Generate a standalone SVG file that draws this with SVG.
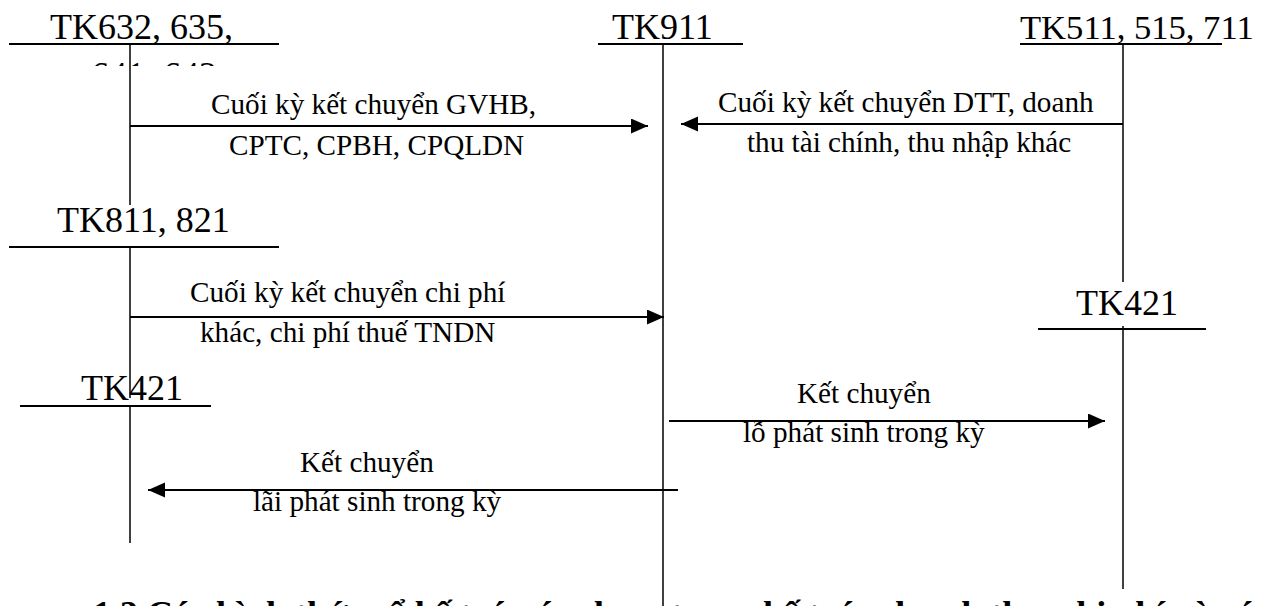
<svg xmlns="http://www.w3.org/2000/svg" width="1270" height="606" viewBox="0 0 1270 606">
<style>
.t{font-family:"Liberation Serif","Times New Roman",serif;font-size:36px;fill:#000}
.l{font-family:"Liberation Serif","Times New Roman",serif;font-size:29.2px;fill:#000}
.h{font-family:"Liberation Serif","Times New Roman",serif;font-size:36px;font-weight:bold;fill:#000}
.bar{stroke:#000;stroke-width:2;fill:none}
.v{stroke:#000;stroke-width:1.5;fill:none}
.a{stroke:#000;stroke-width:2;fill:none;marker-end:url(#ah)}
</style>
<defs>
<marker id="ah" markerUnits="userSpaceOnUse" markerWidth="18" markerHeight="16" refX="17" refY="7.5" orient="auto">
<path d="M0,0 L17,7.5 L0,15 Z" fill="#000"/>
</marker>
<clipPath id="clip641"><rect x="0" y="0" width="300" height="66"/></clipPath>
</defs>
<rect width="1270" height="606" fill="#fff"/>

<g id="tk632">
<text class="t" x="50" y="39">TK632, 635,</text>
<text class="t" x="91" y="87" clip-path="url(#clip641)">641, 642</text>
<line class="bar" x1="9" y1="44" x2="279" y2="44"/>
<line class="v" x1="130" y1="44" x2="130" y2="205"/>
</g>

<g id="tk911">
<text class="t" x="612" y="39">TK911</text>
<line class="bar" x1="598" y1="44" x2="743" y2="44"/>
<line class="v" x1="663" y1="44" x2="663" y2="606"/>
</g>

<g id="tk511">
<text class="t" x="1020" y="39" style="font-size:34.6px">TK511, 515, 711</text>
<line class="bar" x1="1020" y1="44" x2="1222" y2="44"/>
<line class="v" x1="1123" y1="44" x2="1123" y2="282"/>
</g>

<g id="tk811">
<text class="t" x="57" y="232">TK811, 821</text>
<line class="bar" x1="9" y1="247" x2="279" y2="247"/>
<line class="v" x1="130" y1="247" x2="130" y2="398"/>
</g>

<g id="tk421-left">
<text class="t" x="81" y="400">TK421</text>
<line class="bar" x1="20" y1="406" x2="211" y2="406"/>
<line class="v" x1="130" y1="406" x2="130" y2="543"/>
</g>

<g id="tk421-right">
<text class="t" x="1076" y="315">TK421</text>
<line class="bar" x1="1038" y1="329" x2="1206" y2="329"/>
<line class="v" x1="1123" y1="326" x2="1123" y2="589"/>
</g>

<g id="connectors">
<line class="a" x1="130" y1="126" x2="648" y2="126"/>
<line class="a" x1="1123" y1="124" x2="681" y2="124"/>
<line class="a" x1="130" y1="317" x2="664" y2="317"/>
<line class="a" x1="669" y1="421" x2="1105" y2="421"/>
<line class="a" x1="678" y1="490" x2="148" y2="490"/>
</g>

<g id="labels">
<text class="l" x="211" y="114">Cuối kỳ kết chuyển GVHB,</text>
<text class="l" x="229" y="155">CPTC, CPBH, CPQLDN</text>
<text class="l" x="718" y="112">Cuối kỳ kết chuyển DTT, doanh</text>
<text class="l" x="747" y="152">thu tài chính, thu nhập khác</text>
<text class="l" x="190" y="302">Cuối kỳ kết chuyển chi phí</text>
<text class="l" x="200" y="342">khác, chi phí thuế TNDN</text>
<text class="l" x="797" y="403">Kết chuyển</text>
<text class="l" x="743" y="442">lỗ phát sinh trong kỳ</text>
<text class="l" x="300" y="472">Kết chuyển</text>
<text class="l" x="253" y="511">lãi phát sinh trong kỳ</text>
</g>

<text class="h" x="93" y="626">1.3 Các hình thức sổ kế toán áp dụng trong kế toán doanh thu, chi phí và xác định kết quả kinh doanh</text>
</svg>
